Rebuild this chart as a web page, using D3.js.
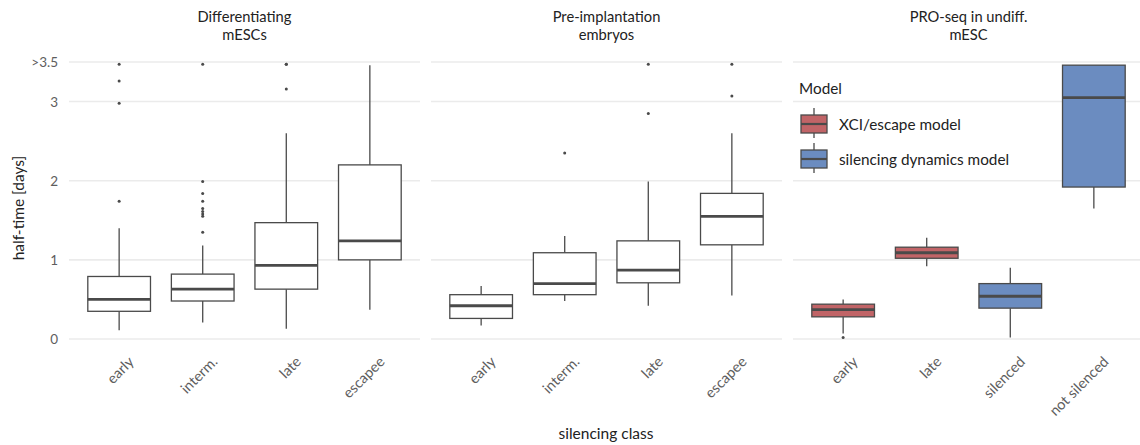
<!DOCTYPE html>
<html>
<head>
<meta charset="utf-8">
<script src="https://cdn.jsdelivr.net/npm/d3@7"></script>
<style>
  body { margin: 0; background: #fff; }
  text { font-family: "Source Sans Pro", Lato, "Noto Sans", sans-serif; }
</style>
</head>
<body>
<div id="chart"></div>
<script>
// panel titles and categories
var panelTitles = [["Differentiating", "mESCs"], ["Pre-implantation", "embryos"], ["PRO-seq in undiff.", "mESC"]];
var diffClasses = ["early", "interm.", "late", "escapee"];
var embryoClasses = ["early", "interm.", "late", "escapee"];
var proseqClasses = ["early", "late", "silenced", "not silenced"];

// box summaries: [lower whisker, q1, median, q3, upper whisker]
var diffBoxes = [[0.11, 0.35, 0.50, 0.79, 1.40], [0.21, 0.48, 0.63, 0.82, 1.18], [0.13, 0.63, 0.93, 1.47, 2.60], [0.37, 1.00, 1.24, 2.20, 3.46]];
var embryoBoxes = [[0.17, 0.26, 0.42, 0.56, 0.67], [0.48, 0.56, 0.70, 1.09, 1.30], [0.42, 0.71, 0.87, 1.24, 1.99], [0.55, 1.19, 1.55, 1.84, 2.60]];
var proseqBoxes = [[0.07, 0.28, 0.37, 0.44, 0.50], [0.92, 1.02, 1.09, 1.16, 1.28], [0.02, 0.39, 0.54, 0.70, 0.90], [1.65, 1.92, 3.05, 3.46, 3.46]];

// outliers per category
var diffOutliers = [[3.47, 3.26, 2.98, 1.74], [3.47, 1.99, 1.84, 1.74, 1.65, 1.61, 1.58, 1.55, 1.35], [3.47, 3.47, 3.16], []];
var embryoOutliers = [[], [2.35], [3.47, 2.85], [3.47, 3.07]];
var proseqOutliers = [[0.02], [], [], []];
var proseqModel = ["XCI/escape model", "XCI/escape model", "silencing dynamics model", "silencing dynamics model"];

var models = ["XCI/escape model", "silencing dynamics model"];
var yTicks = [0, 1, 2, 3, 3.5];
var yTickLabels = ["0", "1", "2", "3", ">3.5"];

var panels = [
  {title: panelTitles[0], cats: diffClasses, boxes: diffBoxes, outliers: diffOutliers, model: null},
  {title: panelTitles[1], cats: embryoClasses, boxes: embryoBoxes, outliers: embryoOutliers, model: null},
  {title: panelTitles[2], cats: proseqClasses, boxes: proseqBoxes, outliers: proseqOutliers, model: proseqModel}
];

var width = 1140, height = 445;
var panelLeft = 69, panelWidth = 351, panelGap = 11;
var lineCol = "#4a4a4a", gridCol = "#ebebeb", tickCol = "#5e5e5e";

var color = d3.scaleOrdinal()
    .domain(models)
    .range(["#c16467", "#6b8cc0"]);

var y = d3.scaleLinear()
    .domain([0, 3.5])
    .range([339, 62]);

var svg = d3.select("#chart").append("svg")
    .attr("width", width)
    .attr("height", height);

// y tick labels
svg.selectAll(".ylab")
    .data(yTicks)
  .enter().append("text")
    .attr("x", 58)
    .attr("y", function(d) { return y(d) + 5; })
    .attr("text-anchor", "end")
    .attr("font-size", 13.5)
    .attr("fill", tickCol)
    .text(function(d, i) { return yTickLabels[i]; });

// y axis title
svg.append("text")
    .attr("transform", "translate(24,208) rotate(-90)")
    .attr("text-anchor", "middle")
    .attr("font-size", 15.5)
    .attr("fill", "#222")
    .text("half-time [days]");

panels.forEach(function(p, pi) {
  var x0 = panelLeft + pi * (panelWidth + panelGap);
  // ggplot style discrete expansion of 0.6 on each side
  var step = panelWidth / (p.cats.length - 1 + 1.2);
  var x = d3.scalePoint()
      .domain(p.cats)
      .range([x0 + 0.6 * step, x0 + panelWidth - 0.6 * step]);
  var bw = 0.75 * step;

  var g = svg.append("g");

  // gridlines
  g.selectAll(".grid")
      .data(yTicks)
    .enter().append("line")
      .attr("x1", x0).attr("x2", x0 + panelWidth)
      .attr("y1", function(d) { return y(d); })
      .attr("y2", function(d) { return y(d); })
      .attr("stroke", gridCol)
      .attr("stroke-width", 1.6);

  // strip title
  g.selectAll(".strip")
      .data(p.title)
    .enter().append("text")
      .attr("x", x0 + panelWidth / 2)
      .attr("y", function(d, i) { return 22 + i * 17.5; })
      .attr("text-anchor", "middle")
      .attr("font-size", 14.7)
      .attr("fill", "#222")
      .text(function(d) { return d; });

  var box = g.selectAll(".box")
      .data(p.boxes)
    .enter().append("g");

  // whiskers
  box.append("line")
      .attr("x1", function(d, i) { return x(p.cats[i]); })
      .attr("x2", function(d, i) { return x(p.cats[i]); })
      .attr("y1", function(d) { return y(d[0]); })
      .attr("y2", function(d) { return y(d[1]); })
      .attr("stroke", lineCol).attr("stroke-width", 1.3);
  box.append("line")
      .attr("x1", function(d, i) { return x(p.cats[i]); })
      .attr("x2", function(d, i) { return x(p.cats[i]); })
      .attr("y1", function(d) { return y(d[3]); })
      .attr("y2", function(d) { return y(d[4]); })
      .attr("stroke", lineCol).attr("stroke-width", 1.3);

  box.append("rect")
      .attr("x", function(d, i) { return x(p.cats[i]) - bw / 2; })
      .attr("width", bw)
      .attr("y", function(d) { return y(d[3]); })
      .attr("height", function(d) { return y(d[1]) - y(d[3]); })
      .attr("fill", function(d, i) { return p.model ? color(p.model[i]) : "#fff"; })
      .attr("stroke", lineCol)
      .attr("stroke-width", 1.3);

  box.append("line")
      .attr("x1", function(d, i) { return x(p.cats[i]) - bw / 2; })
      .attr("x2", function(d, i) { return x(p.cats[i]) + bw / 2; })
      .attr("y1", function(d) { return y(d[2]); })
      .attr("y2", function(d) { return y(d[2]); })
      .attr("stroke", lineCol).attr("stroke-width", 2.8);

  // outliers
  p.outliers.forEach(function(o, i) {
    g.selectAll(".pt" + i)
        .data(o)
      .enter().append("circle")
        .attr("cx", x(p.cats[i]))
        .attr("cy", function(d) { return y(d); })
        .attr("r", 1.5)
        .attr("fill", lineCol);
  });

  // x tick labels
  g.selectAll(".xlab")
      .data(p.cats)
    .enter().append("text")
      .attr("transform", function(d) { return "translate(" + (x(d) + 8) + ",355) rotate(-45)"; })
      .attr("text-anchor", "end")
      .attr("dy", "0.75em")
      .attr("font-size", 14.5)
      .attr("fill", tickCol)
      .text(function(d) { return d; });
});

// x axis title
svg.append("text")
    .attr("x", 606)
    .attr("y", 439)
    .attr("text-anchor", "middle")
    .attr("font-size", 15.5)
    .attr("fill", "#222")
    .text("silencing class");

// legend
var legend = svg.append("g");
legend.append("text")
    .attr("x", 799).attr("y", 94)
    .attr("font-size", 15.3)
    .attr("fill", "#222")
    .text("Model");

var key = legend.selectAll(".key")
    .data(models)
  .enter().append("g")
    .attr("transform", function(d, i) { return "translate(801," + (108 + i * 35) + ")"; });
key.append("line")
    .attr("x1", 13).attr("x2", 13).attr("y1", 0).attr("y2", 30)
    .attr("stroke", lineCol).attr("stroke-width", 1.3);
key.append("rect")
    .attr("x", 0).attr("y", 7).attr("width", 26).attr("height", 18)
    .attr("fill", function(d) { return color(d); })
    .attr("stroke", lineCol).attr("stroke-width", 1.3);
key.append("line")
    .attr("x1", 0).attr("x2", 26).attr("y1", 16).attr("y2", 16)
    .attr("stroke", lineCol).attr("stroke-width", 2.2);
key.append("text")
    .attr("x", 38).attr("y", 21.5)
    .attr("font-size", 15.3)
    .attr("fill", "#222")
    .text(function(d) { return d; });
</script>
</body>
</html>
